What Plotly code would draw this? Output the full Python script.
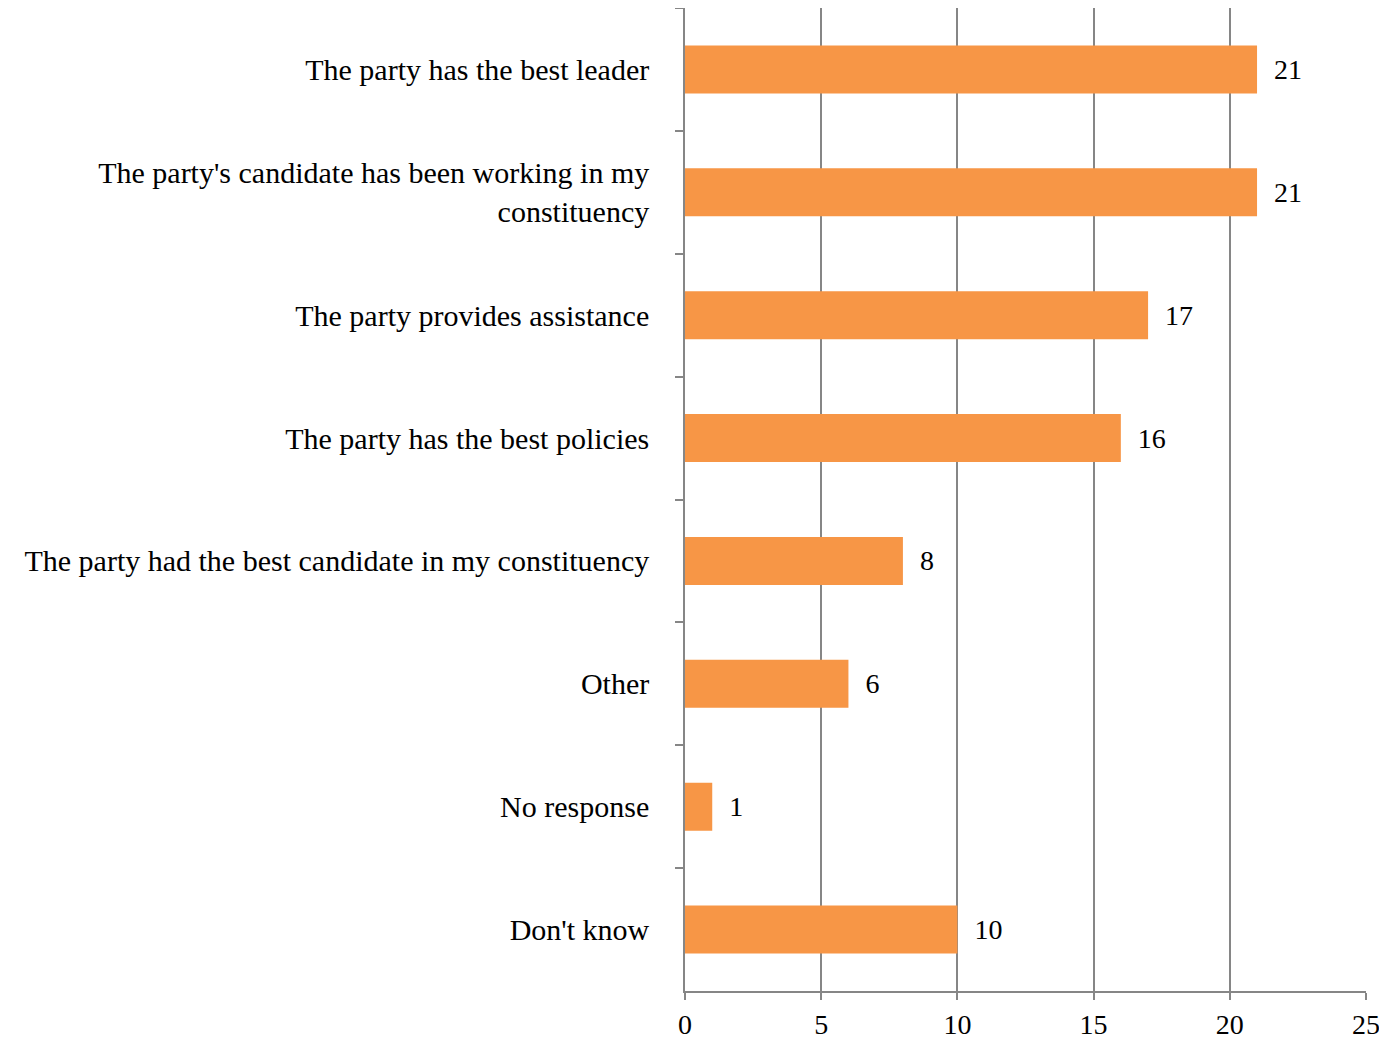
import plotly.graph_objects as go

categories = [
    "The party has the best leader",
    "The party's candidate has been working in my<br>constituency",
    "The party provides assistance",
    "The party has the best policies",
    "The party had the best candidate in my constituency",
    "Other",
    "No response",
    "Don't know",
]
values = [21, 21, 17, 16, 8, 6, 1, 10]
x_ticks = [0, 5, 10, 15, 20, 25]

FONT = "Liberation Serif"
GRID = "#868686"

fig = go.Figure(go.Bar(
    y=categories,
    x=values,
    orientation="h",
    marker=dict(color="#F79646", line=dict(width=0)),
    text=[f"  {v}" for v in values],
    textposition="outside",
    textfont=dict(family=FONT, size=28, color="#000000"),
    cliponaxis=False,
))

fig.update_layout(
    width=1387,
    height=1043,
    margin=dict(l=677, r=29, t=0, b=60),
    paper_bgcolor="white",
    plot_bgcolor="white",
    bargap=0.61,
    showlegend=False,
    font=dict(family=FONT, size=30, color="#000000"),
)

fig.update_xaxes(
    range=[0, 25],
    tickmode="array",
    tickvals=x_ticks,
    ticktext=[str(t) for t in x_ticks],
    showgrid=True,
    gridcolor=GRID,
    gridwidth=1.5,
    showline=True,
    linecolor=GRID,
    linewidth=1.5,
    ticks="outside",
    ticklen=7,
    tickcolor=GRID,
    tickwidth=1.5,
    zeroline=False,
    tickfont=dict(family=FONT, size=28),
    ticklabelstandoff=1,
    automargin=False,
)

fig.update_yaxes(
    autorange="reversed",
    type="category",
    tickson="boundaries",
    showgrid=False,
    showline=True,
    linecolor=GRID,
    linewidth=1.5,
    ticks="outside",
    ticklen=8,
    tickcolor=GRID,
    tickwidth=1.5,
    tickfont=dict(family=FONT, size=30),
    ticklabelstandoff=28,
    automargin=False,
)

fig.write_html("out.html")
